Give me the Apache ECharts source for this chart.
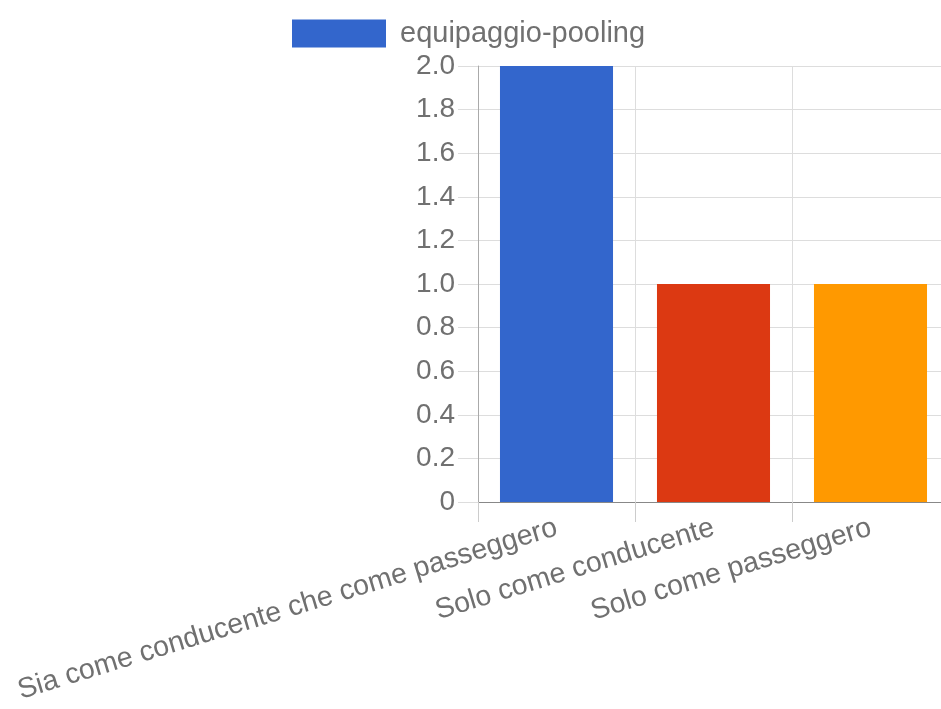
<!DOCTYPE html>
<html>
<head>
<meta charset="utf-8">
<script src="https://cdn.jsdelivr.net/npm/echarts@6/dist/echarts.min.js"></script>
<style>
html,body{margin:0;padding:0;background:#fff;overflow:hidden;}
#chart{width:941px;height:709px;}
</style>
</head>
<body>
<div id="chart"></div>
<script>
var seriesName = 'equipaggio-pooling';
var categories = ['Sia come conducente che come passeggero', 'Solo come conducente', 'Solo come passeggero'];
var values = [2, 1, 1];
var barColors = ['#3366CC', '#DC3912', '#FF9900'];
var yTickLabels = ['0', '0.2', '0.4', '0.6', '0.8', '1.0', '1.2', '1.4', '1.6', '1.8', '2.0'];

var chart = echarts.init(document.getElementById('chart'));
var font = '"Liberation Sans", Arial, sans-serif';
var txt = '#707070';
chart.setOption({
  animation: false,
  color: ['#3366CC'],
  legend: {
    left: 287, top: 14,
    itemWidth: 94, itemHeight: 28,
    icon: 'rect',
    data: [seriesName],
    textStyle: { fontFamily: font, fontSize: 29, color: txt, padding: [0, 0, 0, 9] }
  },
  grid: { left: 478, right: -8, top: 66, bottom: 207, containLabel: false, outerBoundsMode: 'none' },
  xAxis: {
    type: 'category',
    data: categories,
    axisLine: { show: true, lineStyle: { color: '#888', width: 1 } },
    axisTick: { show: true, length: 20, lineStyle: { color: '#ccc' } },
    splitLine: { show: true, lineStyle: { color: '#ddd' } },
    axisLabel: { rotate: 17, margin: 25, fontFamily: font, fontSize: 28.5, color: txt, interval: 0 }
  },
  yAxis: {
    type: 'value',
    min: 0, max: 2, interval: 0.2,
    axisLine: { show: true, lineStyle: { color: '#aaa' } },
    axisTick: { show: true, length: 20, lineStyle: { color: '#ddd' } },
    splitLine: { show: true, lineStyle: { color: '#ddd' } },
    axisLabel: {
      margin: 23, fontFamily: font, fontSize: 28, color: txt,
      formatter: function (v) { return yTickLabels[Math.round(v / 0.2)]; }
    }
  },
  series: [{
    name: seriesName,
    type: 'bar',
    barWidth: '72%',
    data: values.map(function (v, i) { return { value: v, itemStyle: { color: barColors[i] } }; })
  }]
});
</script>
</body>
</html>
